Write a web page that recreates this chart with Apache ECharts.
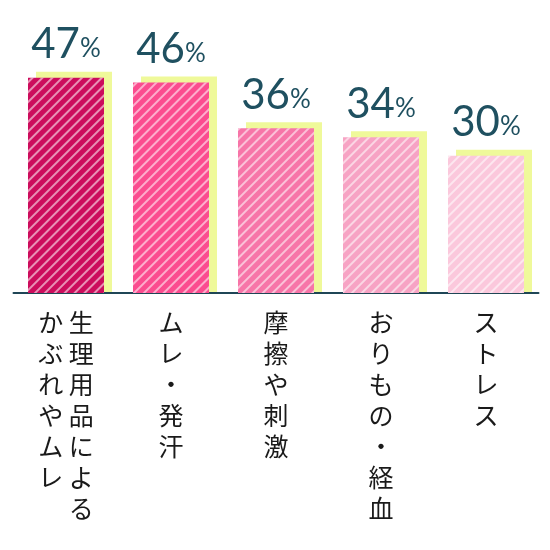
<!DOCTYPE html><html><head><meta charset="utf-8"><script src="https://cdn.jsdelivr.net/npm/echarts@6/dist/echarts.min.js"></script><style>html,body{margin:0;background:#fff}#c{width:550px;height:550px}</style></head><body><div id="c"></div><script>
const categories=["生理用品による|かぶれやムレ","ムレ・発汗","摩擦や刺激","おりもの・経血","ストレス"];
const values=[47,46,36,34,30];
const colors=["#cc0c5c","#fb4c8f","#f775a8","#f7a3c4","#fbc8dc"];
function lab(s){const cols=s.split("|").reverse();const n=Math.max(...cols.map(c=>c.length));const L=[];for(let i=0;i<n;i++){L.push(cols.map(c=>c[i]||"　").join(" "));}return L.join("\n");}
const ch=echarts.init(document.getElementById('c'));
ch.setOption({animation:false,
grid:{left:13.5,right:11.5,top:0,bottom:257},
xAxis:{type:'category',data:categories,axisTick:{show:false},axisLine:{lineStyle:{color:'#1f4656',width:2}},
 axisLabel:{formatter:v=>lab(v),color:'#1a1a1a',fontSize:25,lineHeight:31,margin:14,fontFamily:'Noto Sans CJK JP',align:'center',verticalAlign:'top',interval:0}},
yAxis:{type:'value',min:0,max:64,show:false},
series:[
{type:'custom',z:1,data:values.map((v,i)=>[i,v]),renderItem:(p,api)=>{const b=api.coord([api.value(0),0]);const t=api.coord([api.value(0),api.value(1)]);const w=76;return{type:'rect',shape:{x:t[0]-w/2+8,y:t[1]-6,width:w,height:b[1]-t[1]+5},style:{fill:'#eff99a',stroke:null}};}},
{type:'bar',z:2,barWidth:76,data:values.map((v,i)=>({value:v,itemStyle:{color:colors[i],decal:{symbol:'rect',dashArrayX:[1,0],dashArrayY:[2,5],rotation:-Math.PI/4,color:'rgba(255,255,255,0.55)'}}})),
 label:{show:true,position:'top',distance:12,formatter:p=>'{a|'+p.value+'}{b|%}',rich:{a:{fontSize:42,color:'#1f5060',fontFamily:'Lato'},b:{fontSize:26,color:'#1f5060',fontFamily:'Lato',padding:[8,0,0,0]}}}}
]});
</script></body></html>
